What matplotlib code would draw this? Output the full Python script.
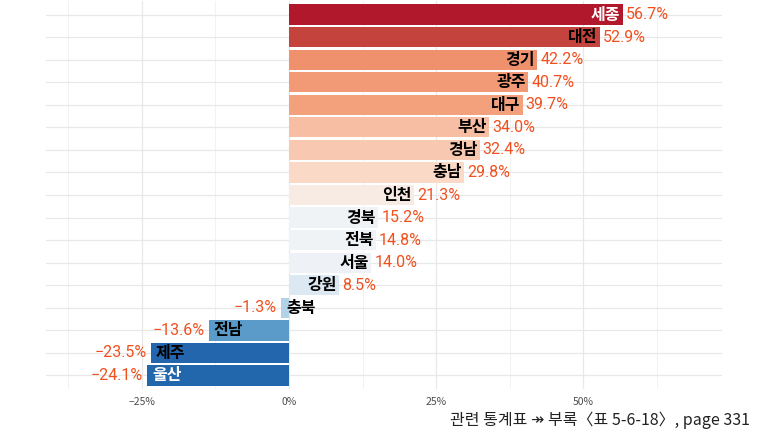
import numpy as np
import matplotlib
matplotlib.use("Agg")
import matplotlib.pyplot as plt

plt.rcParams['font.family'] = ['Noto Sans CJK KR', 'DejaVu Sans']
plt.rcParams['axes.unicode_minus'] = True

regions = ['세종', '대전', '경기', '광주', '대구', '부산', '경남', '충남', '인천',
           '경북', '전북', '서울', '강원', '충북', '전남', '제주', '울산']
values = [56.7, 52.9, 42.2, 40.7, 39.7, 34.0, 32.4, 29.8, 21.3,
          15.2, 14.8, 14.0, 8.5, -1.3, -13.6, -23.5, -24.1]
colors = ['#B2182B', '#C4433C', '#F0916D', '#F29A76', '#F3A07D', '#F7BEA4', '#F8C8B1',
          '#FAD9C7', '#F8EBE4', '#F0F3F6', '#F0F3F6', '#EEF2F6', '#DCE9F2', '#B2D2E7',
          '#5B9BC9', '#2466AD', '#2266AC']
name_colors = ['white', 'black', 'black', 'black', 'black', 'black', 'black', 'black', 'black',
               'black', 'black', 'black', 'black', 'black', 'black', 'black', 'white']
caption = '관련 통계표 ↠ 부록〈표 5-6-18〉, page 331'

fig = plt.figure(figsize=(7.63, 4.33), dpi=100)
ax = fig.add_axes([46 / 763, 44 / 433, 676 / 763, 388 / 433])

y = np.arange(len(regions))
ax.barh(y, values, height=0.9, color=colors, zorder=2)

val_color = '#F0501E'
val_font = ['Roboto', 'DejaVu Sans']
for yi, v, name, nc in zip(y, values, regions, name_colors):
    lab = f'{v:.1f}%'.replace('-', '\u2212')
    if v >= 0:
        ax.text(v - 0.4, yi, name, ha='right', va='center', fontsize=11.5,
                fontweight='bold', color=nc, zorder=3)
        ax.text(v + 0.5, yi, lab, ha='left', va='center', fontsize=11.5,
                color=val_color, family=val_font, zorder=3)
    else:
        ax.text(v + 0.8, yi, name, ha='left', va='center', fontsize=11.5,
                fontweight='bold', color=nc, zorder=3)
        ax.text(v - 0.7, yi, lab, ha='right', va='center', fontsize=11.5,
                color=val_color, family=val_font, zorder=3)

ax.set_xlim(-41.3, 73.6)
ax.set_ylim(len(regions) - 0.4, -0.6)
ax.set_xticks([-25, 0, 25, 50])
ax.set_xticklabels(['\u221225%', '0%', '25%', '50%'])
ax.set_xticks([-37.5, -12.5, 12.5, 37.5, 62.5], minor=True)
ax.set_yticks(y)
ax.set_yticklabels([])
ax.tick_params(axis='both', which='both', length=0)
ax.tick_params(axis='x', labelsize=7.5, colors='#4D4D4D', pad=6)
ax.grid(True, which='major', color='#E8E8E8', linewidth=0.9, zorder=0)
ax.grid(True, which='minor', axis='x', color='#F0F0F0', linewidth=0.6, zorder=0)
ax.set_axisbelow(True)
for s in ax.spines.values():
    s.set_visible(False)

fig.text(750 / 763, 1 - 420 / 433, caption, ha='right', va='center', fontsize=11.5,
         color='#222222')

fig.savefig('out.png', dpi=100)
